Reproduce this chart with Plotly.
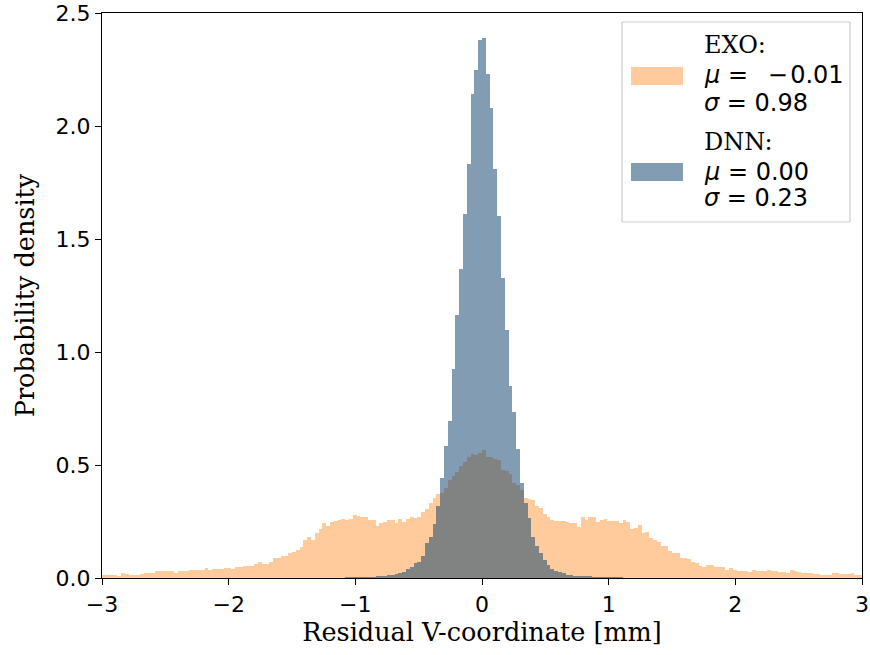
import plotly.graph_objects as go

# ---- data: histogram densities (200 bins, 0.03 wide, from -3 to 3) ----
X_MIN = -3.0
BIN_WIDTH = 0.03

exo_density = [
    0.012, 0.012, 0.012, 0.012, 0.009, 0.022, 0.017, 0.012, 0.015, 0.015,
    0.016, 0.022, 0.021, 0.022, 0.030, 0.029, 0.030, 0.030, 0.030, 0.022,
    0.030, 0.029, 0.031, 0.034, 0.037, 0.034, 0.034, 0.044, 0.034, 0.039,
    0.039, 0.041, 0.044, 0.043, 0.042, 0.047, 0.047, 0.053, 0.052, 0.053,
    0.062, 0.071, 0.062, 0.062, 0.073, 0.087, 0.088, 0.097, 0.098, 0.112,
    0.116, 0.124, 0.139, 0.168, 0.180, 0.168, 0.198, 0.215, 0.245, 0.230,
    0.250, 0.252, 0.257, 0.261, 0.258, 0.260, 0.279, 0.274, 0.272, 0.270,
    0.257, 0.257, 0.230, 0.245, 0.249, 0.257, 0.257, 0.243, 0.259, 0.247,
    0.260, 0.268, 0.265, 0.268, 0.293, 0.304, 0.330, 0.353, 0.370, 0.375,
    0.400, 0.434, 0.451, 0.470, 0.495, 0.512, 0.534, 0.550, 0.545, 0.552,
    0.566, 0.537, 0.537, 0.525, 0.520, 0.478, 0.472, 0.462, 0.420, 0.410,
    0.388, 0.353, 0.349, 0.345, 0.320, 0.310, 0.285, 0.270, 0.257, 0.252,
    0.252, 0.252, 0.247, 0.245, 0.245, 0.227, 0.268, 0.257, 0.268, 0.268,
    0.250, 0.255, 0.262, 0.254, 0.254, 0.254, 0.242, 0.257, 0.250, 0.215,
    0.222, 0.235, 0.200, 0.205, 0.178, 0.170, 0.161, 0.142, 0.142, 0.121,
    0.109, 0.109, 0.087, 0.087, 0.084, 0.072, 0.065, 0.054, 0.050, 0.057,
    0.057, 0.050, 0.050, 0.050, 0.035, 0.045, 0.035, 0.033, 0.031, 0.033,
    0.028, 0.035, 0.031, 0.031, 0.031, 0.035, 0.031, 0.031, 0.025, 0.025,
    0.024, 0.035, 0.029, 0.025, 0.022, 0.022, 0.021, 0.019, 0.019, 0.015,
    0.015, 0.015, 0.021, 0.021, 0.019, 0.019, 0.019, 0.022, 0.015, 0.013,
]

dnn_density = [
    0.000, 0.000, 0.000, 0.000, 0.000, 0.000, 0.000, 0.000, 0.000, 0.000,
    0.000, 0.000, 0.000, 0.000, 0.000, 0.000, 0.000, 0.000, 0.000, 0.000,
    0.000, 0.000, 0.000, 0.000, 0.000, 0.000, 0.000, 0.000, 0.000, 0.000,
    0.000, 0.000, 0.000, 0.000, 0.000, 0.000, 0.000, 0.000, 0.000, 0.000,
    0.000, 0.000, 0.000, 0.000, 0.000, 0.000, 0.000, 0.000, 0.000, 0.000,
    0.000, 0.000, 0.000, 0.000, 0.000, 0.001, 0.001, 0.001, 0.001, 0.001,
    0.002, 0.002, 0.002, 0.002, 0.003, 0.003, 0.003, 0.004, 0.004, 0.005,
    0.005, 0.006, 0.008, 0.009, 0.010, 0.012, 0.015, 0.018, 0.024, 0.028,
    0.038, 0.050, 0.065, 0.072, 0.097, 0.154, 0.180, 0.240, 0.319, 0.441,
    0.586, 0.695, 0.923, 1.162, 1.366, 1.610, 1.830, 2.140, 2.250, 2.380,
    2.390, 2.230, 2.080, 1.810, 1.600, 1.327, 1.097, 0.851, 0.733, 0.569,
    0.419, 0.330, 0.264, 0.183, 0.142, 0.109, 0.080, 0.058, 0.040, 0.032,
    0.025, 0.020, 0.015, 0.012, 0.011, 0.010, 0.008, 0.007, 0.007, 0.006,
    0.006, 0.005, 0.004, 0.004, 0.003, 0.003, 0.003, 0.002, 0.002, 0.002,
    0.002, 0.001, 0.001, 0.001, 0.001, 0.000, 0.000, 0.000, 0.000, 0.000,
    0.000, 0.000, 0.000, 0.000, 0.000, 0.000, 0.000, 0.000, 0.000, 0.000,
    0.000, 0.000, 0.000, 0.000, 0.000, 0.000, 0.000, 0.000, 0.000, 0.000,
    0.000, 0.000, 0.000, 0.000, 0.000, 0.000, 0.000, 0.000, 0.000, 0.000,
    0.000, 0.000, 0.000, 0.000, 0.000, 0.000, 0.000, 0.000, 0.000, 0.000,
    0.000, 0.000, 0.000, 0.000, 0.000, 0.000, 0.000, 0.000, 0.000, 0.000,
]

series_names = ["EXO:", "DNN:"]
series_mu = ["\u2002\u2212\u200a0.01", "0.00"]
series_sigma = ["0.98", "0.23"]

x_ticks = [-3, -2, -1, 0, 1, 2, 3]
y_ticks = [0.0, 0.5, 1.0, 1.5, 2.0, 2.5]

EXO_COLOR = "rgb(255,202,156)"
DNN_COLOR = "rgba(4,57,104,0.5)"

bin_centers = [X_MIN + BIN_WIDTH * (i + 0.5) for i in range(len(exo_density))]

fig = go.Figure()
fig.add_trace(go.Bar(x=bin_centers, y=exo_density, width=BIN_WIDTH,
                     marker=dict(color=EXO_COLOR, line=dict(width=0)),
                     name="EXO", showlegend=False))
fig.add_trace(go.Bar(x=bin_centers, y=dnn_density, width=BIN_WIDTH,
                     marker=dict(color=DNN_COLOR, line=dict(width=0)),
                     name="DNN", showlegend=False))

SANS = "DejaVu Sans"
SERIF = "DejaVu Serif"
TICK_FS = 22
TITLE_FS = 25.5
LEG_FS = 24

fig.update_layout(
    width=870, height=655,
    margin=dict(l=102, r=8, t=13, b=77),
    plot_bgcolor="white", paper_bgcolor="white",
    barmode="overlay", bargap=0,
    showlegend=False,
    xaxis=dict(
        range=[-3, 3], tickmode="array", tickvals=x_ticks,
        ticks="outside", ticklen=6, tickwidth=1.3, tickcolor="black",
        showline=True, linecolor="black", linewidth=1.3, mirror=True,
        showgrid=False, zeroline=False, automargin=False,
        tickfont=dict(family=SANS, size=TICK_FS, color="black"),
        title=dict(text="Residual V-coordinate [mm]", standoff=6,
                   font=dict(family=SERIF, size=TITLE_FS, color="black")),
    ),
    yaxis=dict(
        range=[0, 2.5], tickmode="array", tickvals=y_ticks, tickformat=".1f",
        ticks="outside", ticklen=6, tickwidth=1.3, tickcolor="black",
        showline=True, linecolor="black", linewidth=1.3, mirror=True,
        showgrid=False, zeroline=False, automargin=False,
        tickfont=dict(family=SANS, size=TICK_FS, color="black"),
        title=dict(text="Probability density", standoff=13,
                   font=dict(family=SERIF, size=TITLE_FS, color="black")),
    ),
)

# ---- legend drawn by hand (matplotlib-style wide patches) ----
def px_x(p):
    return (p - 102) / 760.0

def px_y(p):
    return (578 - p) / 565.0

fig.add_shape(type="rect", xref="paper", yref="paper",
              x0=px_x(622), x1=px_x(850), y0=px_y(222), y1=px_y(22),
              line=dict(color="#cccccc", width=1.2), fillcolor="rgba(255,255,255,0.8)")

patch_colors = [EXO_COLOR, DNN_COLOR]
patch_tops = [67, 163]
line_centers = [[45, 75, 103], [142, 172, 198]]
for i in range(2):
    fig.add_shape(type="rect", xref="paper", yref="paper",
                  x0=px_x(631), x1=px_x(683),
                  y0=px_y(patch_tops[i] + 18), y1=px_y(patch_tops[i]),
                  line=dict(width=0), fillcolor=patch_colors[i])
    texts = [
        (series_names[i], SERIF),
        ("<i>\u03bc</i> = " + series_mu[i], SANS),
        ("<i>\u03c3</i> = " + series_sigma[i], SANS),
    ]
    for (t, fam), yc in zip(texts, line_centers[i]):
        fig.add_annotation(xref="paper", yref="paper", x=px_x(702), y=px_y(yc),
                           xanchor="left", yanchor="middle", showarrow=False,
                           text=t, font=dict(family=fam, size=LEG_FS, color="black"))

fig.write_html("out.html", config={"displayModeBar": False},
               post_script="document.body.style.margin='0';document.body.style.overflow='hidden';")
